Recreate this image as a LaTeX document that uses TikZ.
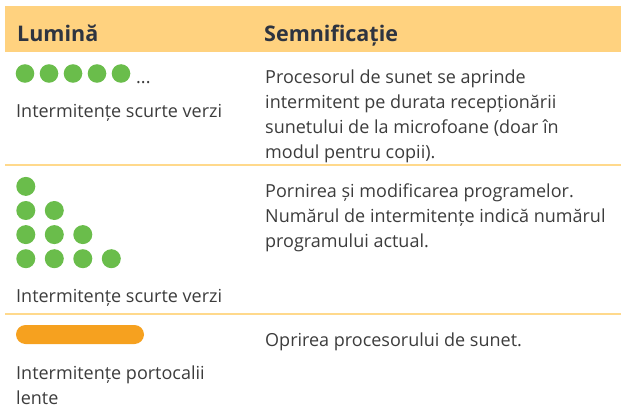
\documentclass[tikz,border=0pt]{standalone}
\usepackage{fontspec}
\setmainfont{Open Sans}
\definecolor{headfill}{HTML}{FFD27F}
\definecolor{sepcol}{HTML}{FFD98C}
\definecolor{ledgreen}{HTML}{6ABD4B}
\definecolor{ledorange}{HTML}{F6A11F}
\definecolor{bodytext}{HTML}{3C3C3C}
\definecolor{headtextcol}{HTML}{2E3440}
\tikzset{
	headtext/.style={anchor=base west, inner sep=0pt, text=headtextcol, font=\fontsize{21.5}{25}\selectfont\bfseries},
	bodybox/.style={anchor=base west, inner sep=0pt, text=bodytext, align=left, font=\fontsize{18}{25}\selectfont},
	sepline/.style={line width=1.5pt, color=sepcol}
}

\begin{document}
\begin{tikzpicture}[x=1pt,y=-1pt]
		%%%%% START %%%%%
		\useasboundingbox (0,0) rectangle (621,412);
		
		% header
		\fill[headfill] (5,6) rectangle (621,52);
		\node[headtext] (hlum) at (17,42) {Lumină};
		\node[headtext] (hsem) at (264,42) {Semnificație};
		
		% row 1 (multi-line nodes sit on the baseline of their last line)
		\foreach \x in {25,49,73,97,121}
			\fill[ledgreen] (\x,73.5) circle (9.3pt);
		\node[bodybox] (more) at (136,83) {...};
		\node[bodybox] (lum1) at (16,117.7) {Intermitențe scurte verzi};
		\node[bodybox] (sem1) at (265,158.5) {Procesorul de sunet se aprinde\\intermitent pe durata recepționării\\sunetului de la microfoane (doar în\\modul pentru copii).};
		
		\draw[sepline] (5,165) -- (621,165);
		
		% row 2
		\foreach \n in {1,...,4}
			\foreach \k in {1,...,\n}
				\fill[ledgreen] ({25.8+28.5*(\k-1)},{186.4+24.1*(\n-1)}) circle (9.5pt);
		\node[bodybox] (lum2) at (16,302.7) {Intermitențe scurte verzi};
		\node[bodybox] (sem2) at (265,247) {Pornirea și modificarea programelor.\\Numărul de intermitențe indică numărul\\programului actual.};
		
		\draw[sepline] (5,314) -- (621,314);
		
		% row 3
		\fill[ledorange, rounded corners=9.5pt] (16,325) rectangle (144,344);
		\node[bodybox] (lum3) at (16,404) {Intermitențe portocalii\\lente};
		\node[bodybox] (sem3) at (265,346) {Oprirea procesorului de sunet.};
		
		%%%%% END %%%%%
\end{tikzpicture}
\end{document}
